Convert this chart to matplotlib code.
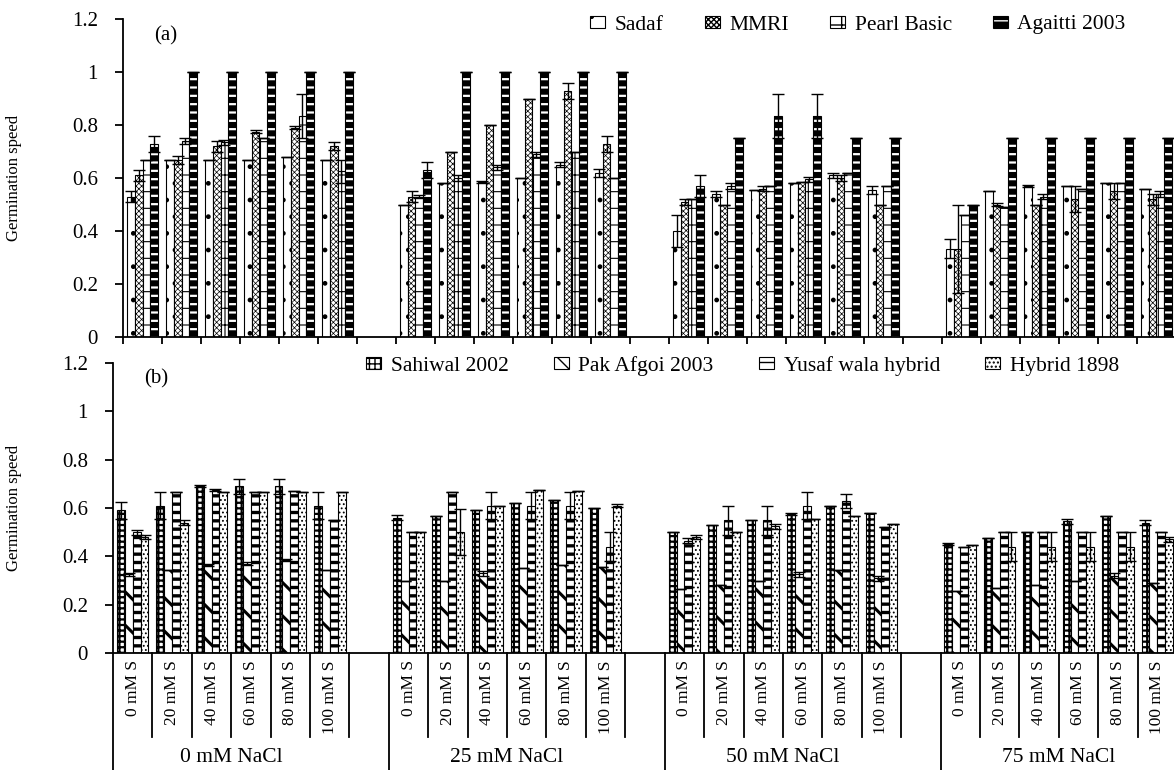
import numpy as np
import matplotlib.pyplot as plt
from matplotlib.patches import Patch
from matplotlib.legend_handler import HandlerTuple
from matplotlib.ticker import FuncFormatter

plt.rcParams['font.family'] = ['Liberation Serif', 'DejaVu Serif']

nacl_levels = ['0 mM NaCl', '25 mM NaCl', '50 mM NaCl', '75 mM NaCl']
s_levels = ['0 mM S', '20 mM S', '40 mM S', '60 mM S', '80 mM S', '100 mM S']

# (a) germination speed, 4 NaCl levels x 6 S levels
sadaf = [0.53, 0.667, 0.667, 0.667, 0.68, 0.667,
         0.50, 0.58, 0.585, 0.60, 0.65, 0.62,
         0.40, 0.54, 0.555, 0.58, 0.61, 0.555,
         0.333, 0.55, 0.57, 0.57, 0.58, 0.56]
sadaf_err = [0.02, 0, 0, 0, 0, 0,
             0, 0, 0.005, 0, 0.01, 0.015,
             0.06, 0.01, 0, 0, 0.01, 0.015,
             0.035, 0, 0.005, 0, 0, 0]
mmri = [0.61, 0.667, 0.72, 0.775, 0.79, 0.72,
        0.53, 0.70, 0.80, 0.90, 0.93, 0.73,
        0.51, 0.50, 0.56, 0.585, 0.60, 0.50,
        0.333, 0.50, 0.50, 0.52, 0.55, 0.52]
mmri_err = [0.02, 0.015, 0.02, 0.005, 0.005, 0.015,
            0.02, 0, 0, 0, 0.03, 0.03,
            0.01, 0, 0.01, 0, 0.01, 0,
            0.167, 0.005, 0, 0.05, 0.03, 0.02]
pearl = [0.667, 0.74, 0.735, 0.75, 0.833, 0.625,
         0.53, 0.60, 0.64, 0.69, 0.70, 0.60,
         0.52, 0.57, 0.57, 0.595, 0.62, 0.57,
         0.46, 0.49, 0.53, 0.56, 0.58, 0.54]
pearl_err = [0, 0.01, 0.01, 0, 0.083, 0.042,
             0.005, 0.01, 0.01, 0.01, 0, 0,
             0, 0.01, 0, 0.01, 0, 0,
             0, 0, 0.01, 0, 0, 0.01]
agaitti = [0.73, 1, 1, 1, 1, 1,
           0.63, 1, 1, 1, 1, 1,
           0.57, 0.75, 0.833, 0.833, 0.75, 0.75,
           0.50, 0.75, 0.75, 0.75, 0.75, 0.75]
agaitti_err = [0.03, 0, 0, 0, 0, 0,
               0.03, 0, 0, 0, 0, 0,
               0.04, 0, 0.083, 0.083, 0, 0,
               0, 0, 0, 0, 0, 0]

# (b)
sahiwal = [0.59, 0.61, 0.69, 0.69, 0.69, 0.61,
           0.56, 0.567, 0.59, 0.62, 0.635, 0.60,
           0.50, 0.53, 0.55, 0.575, 0.61, 0.58,
           0.45, 0.475, 0.50, 0.545, 0.565, 0.54]
sahiwal_err = [0.035, 0.055, 0.005, 0.03, 0.03, 0.055,
               0.01, 0, 0, 0, 0, 0,
               0, 0, 0, 0.005, 0, 0,
               0.005, 0, 0, 0.01, 0, 0.01]
pak_afgoi = [0.325, 0.345, 0.365, 0.37, 0.385, 0.345,
             0.30, 0.30, 0.33, 0.35, 0.365, 0.355,
             0.265, 0.28, 0.30, 0.325, 0.345, 0.31,
             0.255, 0.27, 0.28, 0.30, 0.32, 0.29]
pak_afgoi_err = [0.005, 0, 0.005, 0.005, 0.005, 0,
                 0, 0, 0.01, 0, 0, 0,
                 0, 0, 0, 0.01, 0, 0.01,
                 0, 0, 0, 0, 0.01, 0]
yusaf = [0.50, 0.665, 0.675, 0.665, 0.67, 0.55,
         0.50, 0.665, 0.61, 0.61, 0.61, 0.44,
         0.465, 0.55, 0.55, 0.61, 0.63, 0.52,
         0.44, 0.50, 0.50, 0.50, 0.50, 0.50]
yusaf_err = [0.01, 0, 0.005, 0, 0, 0,
             0, 0, 0.055, 0.055, 0.055, 0.06,
             0.01, 0.06, 0.06, 0.055, 0.03, 0,
             0, 0, 0, 0, 0, 0]
hybrid = [0.48, 0.54, 0.665, 0.665, 0.665, 0.665,
          0.50, 0.50, 0.61, 0.675, 0.67, 0.61,
          0.48, 0.50, 0.525, 0.555, 0.565, 0.535,
          0.445, 0.44, 0.44, 0.44, 0.44, 0.47]
hybrid_err = [0.01, 0.01, 0, 0, 0, 0,
              0, 0.095, 0, 0, 0, 0.005,
              0.01, 0, 0.01, 0, 0, 0,
              0, 0.06, 0.06, 0.06, 0.06, 0.01]

# name, values, errors, face, hatch, hatch colour, hatch width
series_a = [
    ('Sadaf', sadaf, sadaf_err, 'white', '.', 'black', 1.0),
    ('MMRI', mmri, mmri_err, 'white', 'xxxxxx', 'black', 0.5),
    ('Pearl Basic', pearl, pearl_err, 'white', '+', 'black', 0.8),
    ('Agaitti 2003', agaitti, agaitti_err, 'black', '--', 'white', 1.6),
]
series_b = [
    ('Sahiwal 2002', sahiwal, sahiwal_err, 'white', '+++', 'black', 1.6),
    ('Pak Afgoi 2003', pak_afgoi, pak_afgoi_err, 'white', '\\', 'black', 2.2),
    ('Yusaf wala hybrid', yusaf, yusaf_err, 'white', '--', 'black', 2.4),
    ('Hybrid 1898', hybrid, hybrid_err, 'white', '....', 'black', 0.8),
]

n_slots = 27
slot = np.array([g * 7 + s + 0.5 for g in range(4) for s in range(6)])
bw = 0.2

W, H = 1174, 770
fig = plt.figure(figsize=(W / 100, H / 100), dpi=100)


def px_axes(left, top, right, bottom):
    return fig.add_axes([left / W, 1 - bottom / H, (right - left) / W, (bottom - top) / H])


def set_hlw(patches, lw):
    for p in patches:
        if hasattr(p, 'set_hatch_linewidth'):
            p.set_hatch_linewidth(lw)


def draw_series(ax, x, vals, errs, face, hatch, hcol, hlw):
    with plt.rc_context({'hatch.linewidth': hlw}):
        if hcol == 'black':
            bars = ax.bar(x, vals, bw, color=face, edgecolor='black', linewidth=0.8, hatch=hatch)
            set_hlw(bars, hlw)
        else:
            ax.bar(x, vals, bw, color=face, edgecolor='none', linewidth=0)
            bars = ax.bar(x, vals, bw, color='none', edgecolor=hcol, linewidth=0, hatch=hatch)
            set_hlw(bars, hlw)
            ax.bar(x, vals, bw, color='none', edgecolor='black', linewidth=0.8)
    ax.errorbar(x, vals, yerr=errs, fmt='none', ecolor='black', elinewidth=1,
                capsize=4, capthick=1, zorder=3)


def legend_handle(face, hatch, hcol, hlw):
    with plt.rc_context({'hatch.linewidth': hlw}):
        if hcol == 'black':
            p = Patch(facecolor=face, edgecolor='black', linewidth=0.8, hatch=hatch)
            set_hlw([p], hlw)
            return p
        base = Patch(facecolor=face, edgecolor='none')
        hp = Patch(facecolor='none', edgecolor=hcol, linewidth=0, hatch=hatch)
        set_hlw([hp], hlw)
        rim = Patch(facecolor='none', edgecolor='black', linewidth=0.8)
        return (base, hp, rim)


def panel(ax, series, tag, leg_x, leg_y, colsp):
    handles, names = [], []
    for i, (name, vals, errs, face, hatch, hcol, hlw) in enumerate(series):
        draw_series(ax, slot + (i - 1.5) * bw, vals, errs, face, hatch, hcol, hlw)
        handles.append(legend_handle(face, hatch, hcol, hlw))
        names.append(name)
    ax.set_xlim(0, n_slots)
    ax.set_ylim(0, 1.2)
    ax.set_yticks(np.arange(0, 1.21, 0.2))
    ax.yaxis.set_major_formatter(FuncFormatter(lambda v, p: f'{v:g}'))
    ax.spines[['top', 'right']].set_visible(False)
    ax.spines[['left', 'bottom']].set_linewidth(1.3)
    ax.tick_params(axis='y', direction='out', length=6, width=1.3, labelsize=15, pad=12)
    ax.set_xticks(np.arange(0, n_slots + 1))
    ax.tick_params(axis='x', direction='out', length=5, width=1.3, labelbottom=False)
    ax.set_ylabel('Germination speed', fontsize=12)
    ax.text(0.8, 1.135, tag, fontsize=15, va='center', ha='left')
    ax.legend(handles, names, ncol=4, loc='center left', frameon=False,
              bbox_to_anchor=(leg_x / W, 1 - leg_y / H), bbox_transform=fig.transFigure,
              fontsize=15.5, handlelength=0.7, handleheight=0.5, handletextpad=0.45,
              columnspacing=colsp, borderaxespad=0, borderpad=0,
              handler_map={tuple: HandlerTuple(ndivide=1, pad=0)})


ax_a = px_axes(123, 19, 1176, 337)
ax_b = px_axes(113, 363, 1177, 653)
panel(ax_a, series_a, '(a)', 590, 25, 1.9)
panel(ax_b, series_b, '(b)', 366, 366, 2.1)
ax_a.yaxis.set_label_coords(22 / W, 1 - 178 / H, transform=fig.transFigure)
ax_b.yaxis.set_label_coords(22 / W, 1 - 508 / H, transform=fig.transFigure)

# two-level category axis under (b)
ax_b.tick_params(axis='x', length=0)
tr = ax_b.get_xaxis_transform()
h_b = 653 - 363
short_end = -(737 - 653) / h_b
long_end = -(770 - 653) / h_b
for g in range(4):
    start = g * 7
    ax_b.plot([start, start], [0, long_end], color='black', lw=1.3, transform=tr, clip_on=False)
    for s in range(1, 7):
        ax_b.plot([start + s, start + s], [0, short_end], color='black', lw=1.3,
                  transform=tr, clip_on=False)
    for s, lab in enumerate(s_levels):
        ax_b.text(start + s + 0.5, -(660 - 653) / h_b, lab, rotation=90, ha='center',
                  va='top', fontsize=12.5, transform=tr)
    ax_b.text(start + 3.0, -(757 - 653) / h_b, nacl_levels[g], ha='center', va='center',
              fontsize=15.5, transform=tr)

fig.savefig('out.png', dpi=100)
